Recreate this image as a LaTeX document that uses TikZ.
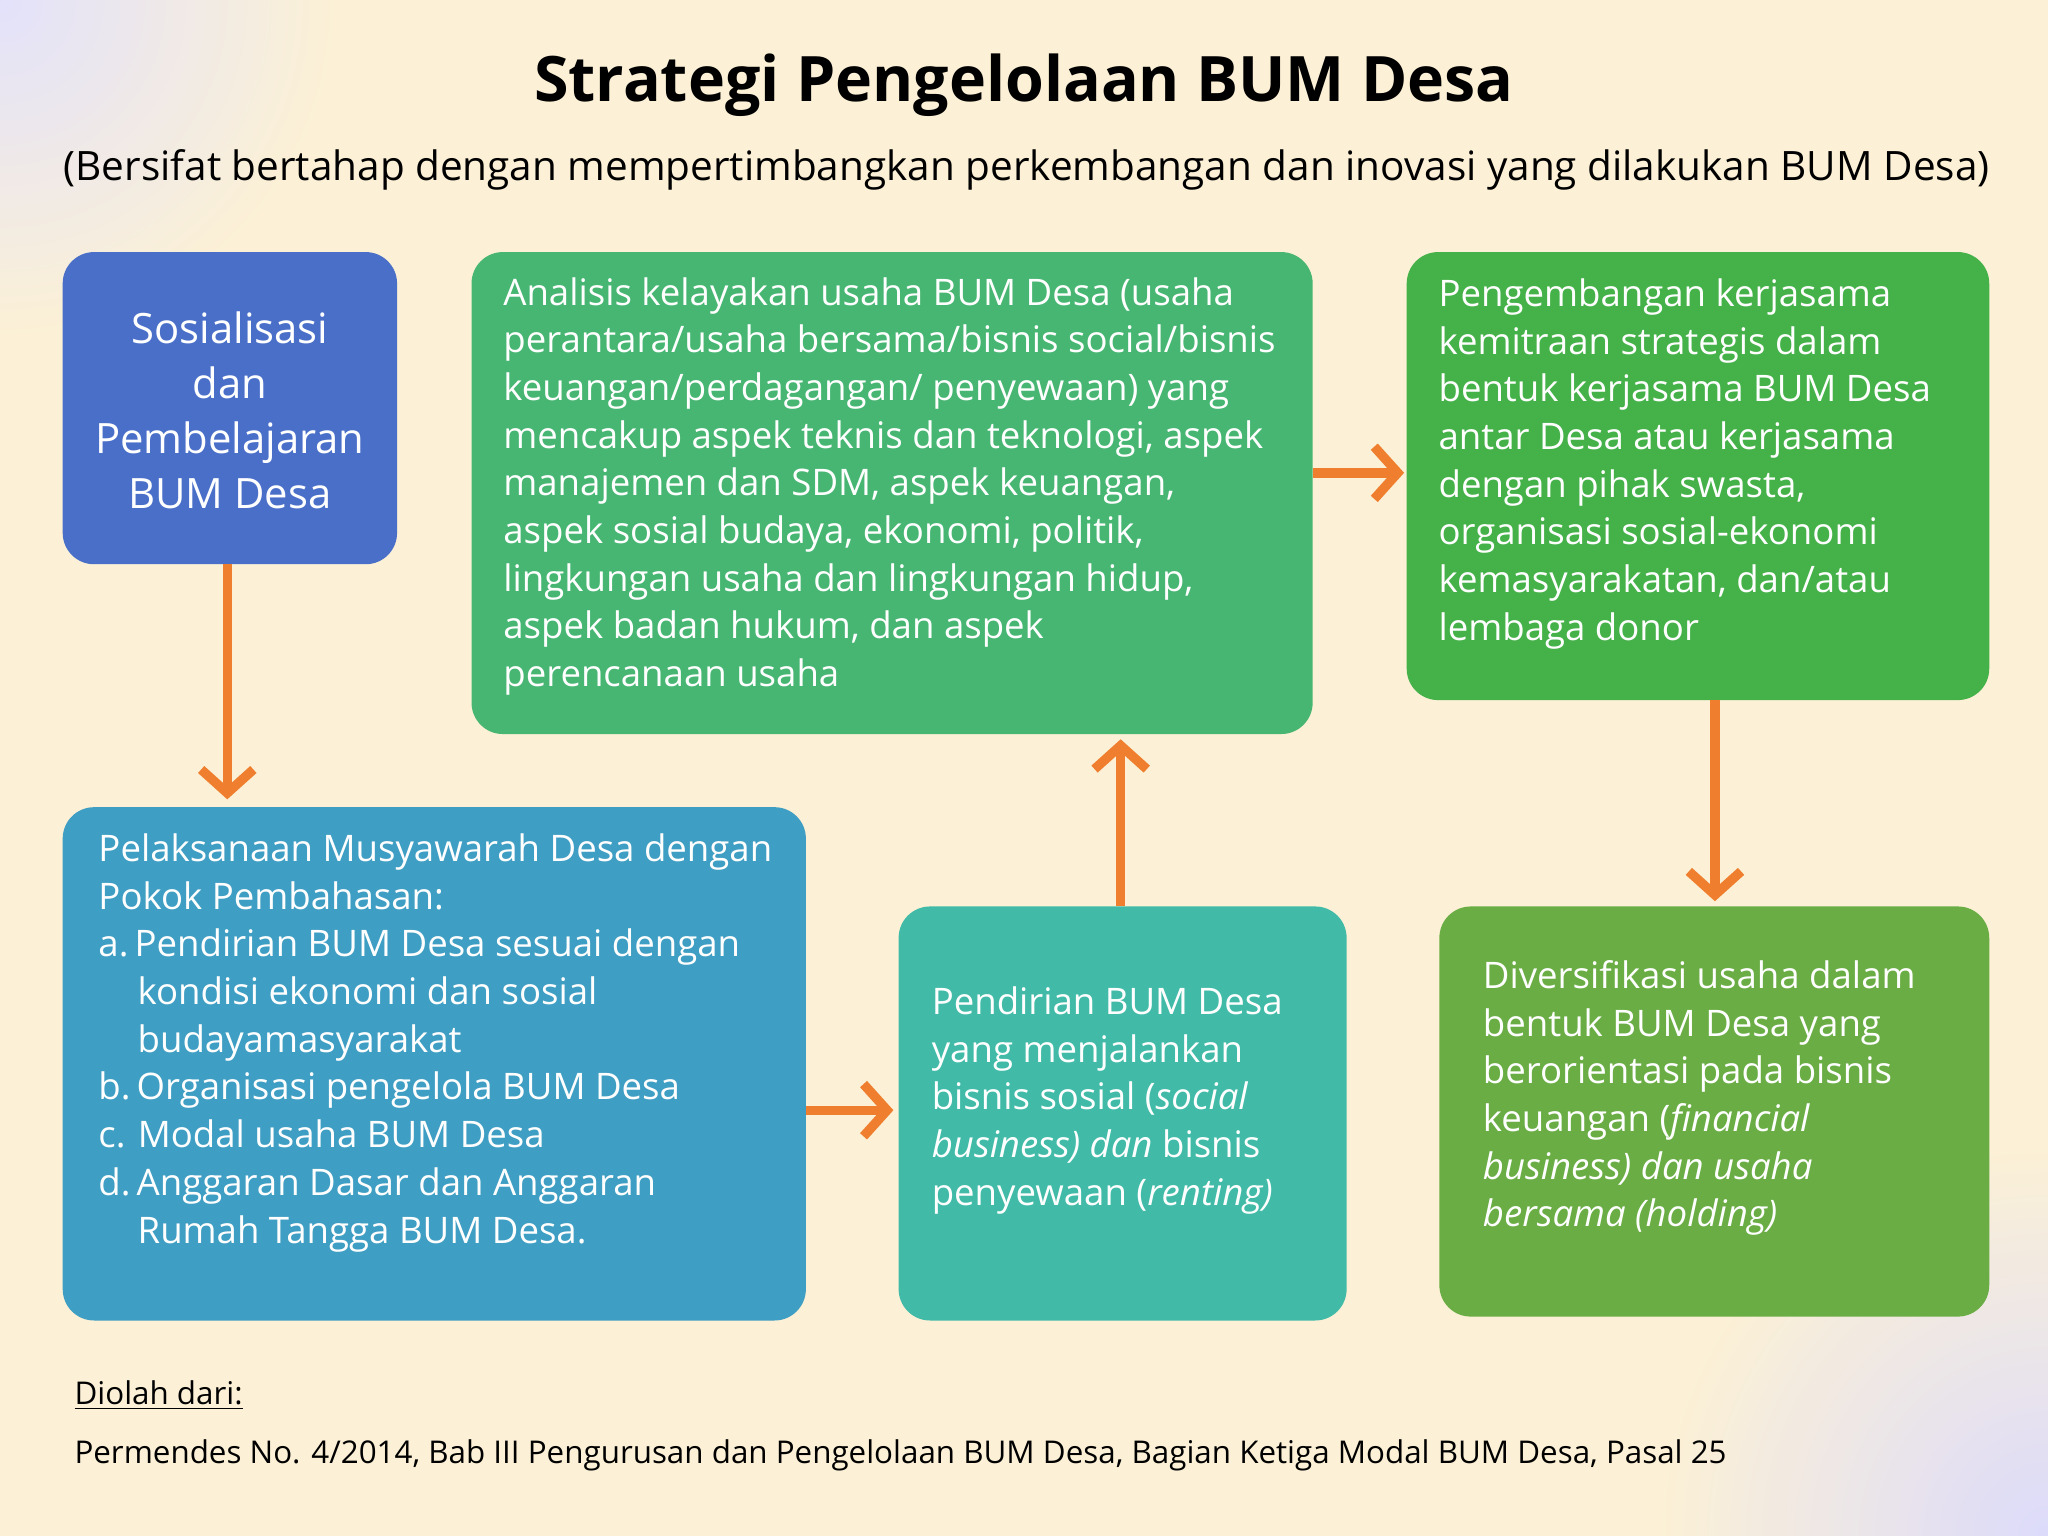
\documentclass[tikz,border=0pt]{standalone}
\usepackage{fontspec}
\setmainfont{Open Sans}
\usetikzlibrary{arrows.meta,shadings}
\definecolor{bgc}{HTML}{FCF1D6}
\definecolor{cblue}{HTML}{4A6FC9}
\definecolor{cgreenA}{HTML}{47B672}
\definecolor{cgreenB}{HTML}{45B149}
\definecolor{cteal}{HTML}{3F9EC3}
\definecolor{cturq}{HTML}{41BBA8}
\definecolor{colive}{HTML}{6AAD45}
\definecolor{corange}{HTML}{EF7F2E}
\tikzset{
 x=0.5pt,y=-0.5pt,
 boxst/.style={rounded corners=12pt,text=white,font=\fontsize{14}{18.25}\selectfont,inner sep=0pt},
 arr/.style={draw=corange,line width=3.6pt,-{Straight Barb[length=9pt,width=20pt,line width=3.6pt]}}
}
\begin{document}
\begin{tikzpicture}
\useasboundingbox (0,0) rectangle (1568,1176);
\fill[bgc] (0,0) rectangle (1568,1176);
\begin{scope}
\clip (0,0) rectangle (1568,1176);
\shade[inner color=blue!12!white,outer color=bgc,opacity=0.9] (0,0) circle (260);
\shade[inner color=blue!15!white,outer color=bgc,opacity=0.9] (1568,1176) circle (300);
\end{scope}
\node[font=\fontsize{24}{28}\selectfont\bfseries] (title) at (784,65) {Strategi Pengelolaan BUM Desa};
\node[font=\fontsize{15.5}{19}\selectfont] (sub) at (786,130) {(Bersifat bertahap dengan mempertimbangkan perkembangan dan inovasi yang dilakukan BUM Desa)};

\fill[cblue,rounded corners=12pt] (48,193) rectangle (304,432);
\node[boxst,align=center,font=\fontsize{16}{21}\selectfont] (s) at (176,314) {Sosialisasi\\dan\\Pembelajaran\\BUM Desa};
\coordinate (sB) at (174,432);

\fill[cgreenA,rounded corners=12pt] (361,193) rectangle (1005,562);
\node[boxst,align=left,anchor=north west] (a) at (385,212) {Analisis kelayakan usaha BUM Desa (usaha\\perantara/usaha bersama/bisnis social/bisnis\\keuangan/perdagangan/ penyewaan) yang\\mencakup aspek teknis dan teknologi, aspek\\manajemen dan SDM, aspek keuangan,\\aspek sosial budaya, ekonomi, politik,\\lingkungan usaha dan lingkungan hidup,\\aspek badan hukum, dan aspek\\perencanaan usaha};

\fill[cgreenB,rounded corners=12pt] (1077,193) rectangle (1523,536);
\node[boxst,align=left,anchor=north west] (k) at (1101,213) {Pengembangan kerjasama\\kemitraan strategis dalam\\bentuk kerjasama BUM Desa\\antar Desa atau kerjasama\\dengan pihak swasta,\\organisasi sosial-ekonomi\\kemasyarakatan, dan/atau\\lembaga donor};

\fill[cteal,rounded corners=12pt] (48,618) rectangle (617,1011);
\node[boxst,align=left,anchor=north west] (p) at (75,638) {Pelaksanaan Musyawarah Desa dengan\\Pokok Pembahasan:\\a.\,Pendirian BUM Desa sesuai dengan\\\hspace*{15pt}kondisi ekonomi dan sosial\\\hspace*{15pt}budayamasyarakat\\b.\,Organisasi pengelola BUM Desa\\c.\,\,Modal usaha BUM Desa\\d.\,Anggaran Dasar dan Anggaran\\\hspace*{15pt}Rumah Tangga BUM Desa.};

\fill[cturq,rounded corners=12pt] (688,694) rectangle (1031,1011);
\node[boxst,align=left,anchor=north west] (b) at (713,755) {Pendirian BUM Desa\\yang menjalankan\\bisnis sosial (\textit{social}\\\textit{business) dan} bisnis\\penyewaan (\textit{renting)}};

\fill[colive,rounded corners=12pt] (1102,694) rectangle (1523,1008);
\node[boxst,align=left,anchor=north west] (d) at (1135,735) {Diversifikasi usaha dalam\\bentuk BUM Desa yang\\berorientasi pada bisnis\\keuangan (\textit{financial}\\\textit{business) dan usaha}\\\textit{bersama (holding)}};

\coordinate (pT) at (174,612);
\coordinate (pR) at (617,850);
\coordinate (bL) at (684,850);
\coordinate (bT) at (858,694);
\coordinate (aB) at (858,566);
\coordinate (aR) at (1005,362);
\coordinate (kL) at (1075,362);
\coordinate (kB) at (1313,536);
\coordinate (dT) at (1313,690);
\draw[arr] (sB) -- (pT);
\draw[arr] (pR) -- (bL);
\draw[arr] (bT) -- (aB);
\draw[arr] (aR) -- (kL);
\draw[arr] (kB) -- (dT);

\node[anchor=west,font=\fontsize{12}{14}\selectfont] (f1) at (50,1068) {\underline{Diolah dari:}};
\node[anchor=west,font=\fontsize{12}{14}\selectfont] (f2) at (50,1114) {Permendes No. 4/2014, Bab III Pengurusan dan Pengelolaan BUM Desa, Bagian Ketiga Modal BUM Desa, Pasal 25};
\end{tikzpicture}
\end{document}
